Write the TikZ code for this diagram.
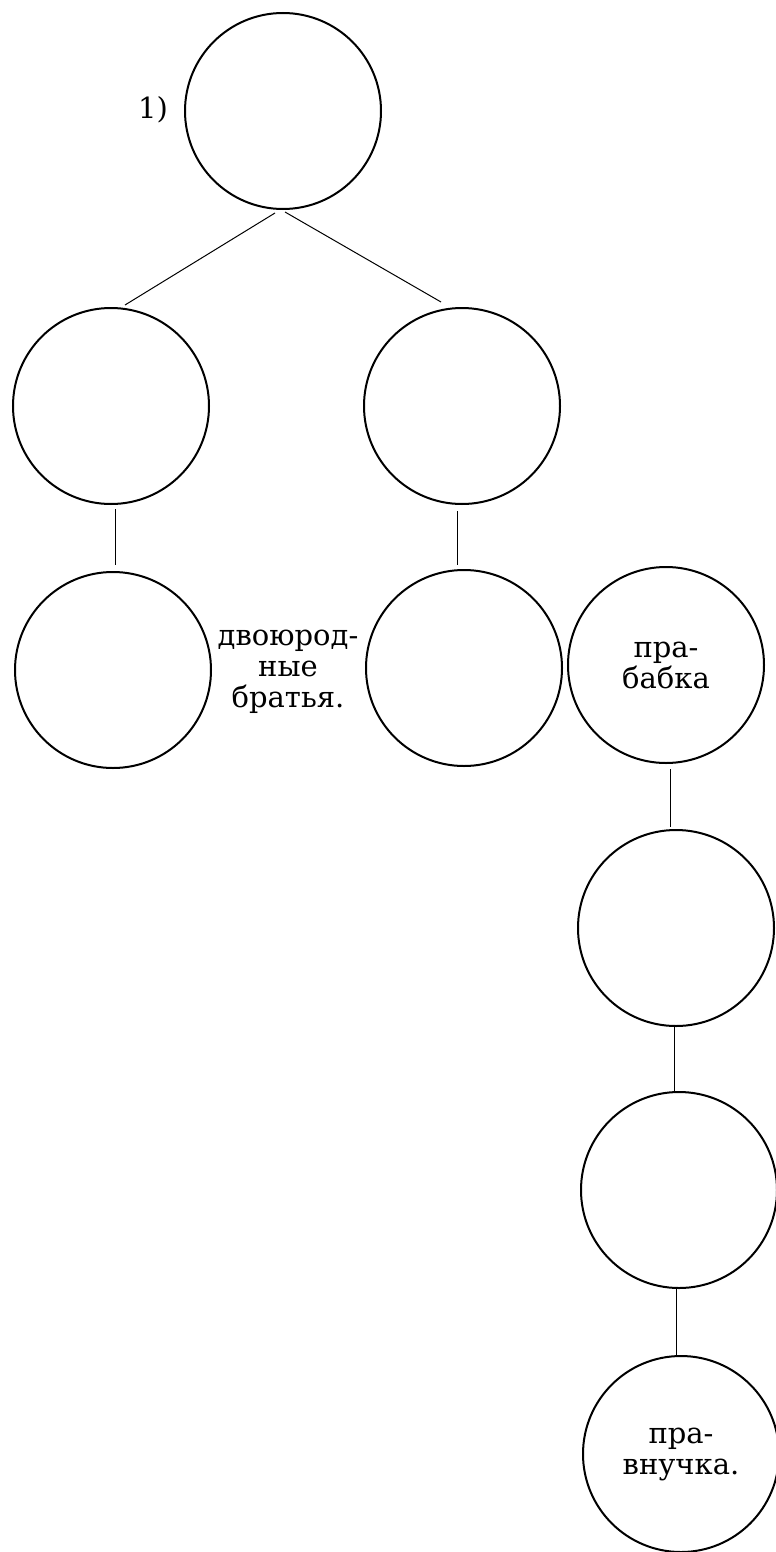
\documentclass[tikz,border=0pt]{standalone}
\usepackage{fontspec}
\setmainfont{DejaVu Serif}
\begin{document}
\begin{tikzpicture}[x=0.5pt,y=-0.5pt,
  person/.style={circle,draw,line width=1pt,minimum size=98pt,inner sep=0pt,align=center,
    font=\fontsize{14.5}{15.5}\selectfont},
  conn/.style={line width=0.5pt},
  lbl/.style={inner sep=0pt,align=center,font=\fontsize{14.5}{15.5}\selectfont}]
\useasboundingbox (0,0) rectangle (776,1552);
% circles
\node[person] (A) at (283,111) {};
\node[person] (B) at (111,406) {};
\node[person] (C) at (462,406) {};
\node[person] (D) at (113,670) {};
\node[person] (E) at (464,668) {};
\node[person] (F) at (666,665) {пра-\\бабка};
\node[person] (G) at (676,928) {};
\node[person] (H) at (679,1190) {};
\node[person] (I) at (681,1454) {пра-\\внучка.};
% labels
\node[lbl] (one) at (153,110) {1)};
\node[lbl] (cousins) at (288,672) {двоюрод-\\ные\\братья.};
% connector helper coordinates
\coordinate (apexL) at (275,213);
\coordinate (apexR) at (285,212);
\coordinate (endL) at (125,305);
\coordinate (endR) at (441,302);
\coordinate (xBD) at (115,0);
\coordinate (xCE) at (457,0);
\coordinate (xFG) at (670,0);
\coordinate (xGH) at (674,0);
\coordinate (xHI) at (676,0);
% connectors
\draw[conn] (apexL) -- (endL);
\draw[conn] (apexR) -- (endR);
\draw[conn,shorten <=2pt,shorten >=3pt] (B.south -| xBD) -- (D.north -| xBD);
\draw[conn,shorten <=3pt,shorten >=2pt] (C.south -| xCE) -- (E.north -| xCE);
\draw[conn,shorten <=2.5pt,shorten >=1pt] (F.south -| xFG) -- (G.north -| xFG);
\draw[conn] (G.south -| xGH) -- (H.north -| xGH);
\draw[conn] (H.south -| xHI) -- (I.north -| xHI);
\end{tikzpicture}
\end{document}
